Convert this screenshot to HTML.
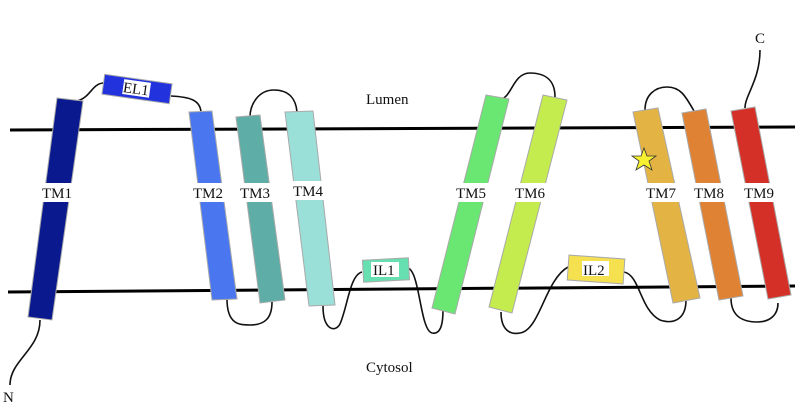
<!DOCTYPE html>
<html><head><style>body{margin:0;background:#fff}svg{display:block}text{font-family:"Liberation Serif",serif;font-size:15px;fill:#111}</style></head><body>
<svg width="800" height="417" viewBox="0 0 800 417">
<g fill="none" stroke="#111" stroke-width="1.6">
<path d="M40,320 C40,350 10,360 10,385"/>
<path d="M77,101 C90,98 92,84 103,83"/>
<path d="M171,96 C190,97 200,100 201,112"/>
<path d="M250,117 C250,105 258,90 274,90 C290,90 296,100 297,112"/>
<path d="M227,299 C227,325 240,325 250,325 C265,325 272,318 272,302"/>
<path d="M323,306 C323,330 335,333 340,324 C348,305 350,275 362,272"/>
<path d="M408,268 C420,272 420,330 432,333 C442,335 443,320 443,310"/>
<path d="M502,99 C512,95 514,73 530,73 C545,73 555,80 555,97"/>
<path d="M501,312 C501,330 510,335 520,333 C540,330 545,280 568,267"/>
<path d="M624,272 C640,275 640,310 660,320 C675,325 686,318 686,300"/>
<path d="M645,110 C645,95 655,87 667,87 C680,87 685,95 694,111"/>
<path d="M731,298 C731,318 745,322 757,322 C770,322 778,315 778,303"/>
<path d="M745,108 C745,95 760,80 760,50"/>
</g>
<line x1="10" y1="130" x2="795" y2="127" stroke="#000" stroke-width="3"/>
<line x1="8" y1="292" x2="795" y2="286" stroke="#000" stroke-width="3"/>
<g stroke="#aaa" stroke-width="1">
<polygon points="57,98 83,101 52,320 28,317" fill="#0a1a8e"/>
<polygon points="189,112 212,111 237,299 212,300" fill="#4a77f0"/>
<polygon points="236,117 260,115 285,300 260,303" fill="#5eada6"/>
<polygon points="285,112 313,111 335,305 309,306" fill="#9adfd8"/>
<polygon points="486,95 509,99 455,314 432,308" fill="#6ae673"/>
<polygon points="543,95 567,100 512,313 489,307" fill="#c5ec4e"/>
<polygon points="633,112 658,108 700,298 673,303" fill="#e3b444"/>
<polygon points="682,113 706,109 743,296 719,300" fill="#e08233"/>
<polygon points="731,111 755,107 791,295 768,299" fill="#d53027"/>
<rect x="103" y="79" width="68" height="20" fill="#2233dd" transform="rotate(8 137 89)"/>
<rect x="363" y="259" width="46" height="22" fill="#66e0b0" transform="rotate(-3 386 270)"/>
<rect x="568" y="257" width="56" height="25" fill="#f5e050" transform="rotate(4 596 270)"/>
</g>
<g fill="#fff">
<rect x="123" y="81" width="27" height="15" transform="rotate(8 137 89)"/>
<rect x="371" y="262" width="28" height="15"/>
<rect x="582" y="261" width="27" height="15"/>
<rect x="40" y="183" width="34" height="19"/><rect x="192" y="183" width="36" height="19"/>
<rect x="239" y="183" width="36" height="19"/><rect x="292" y="181" width="36" height="19"/>
<rect x="455" y="183" width="36" height="19"/><rect x="514" y="183" width="36" height="19"/>
<rect x="645" y="183" width="36" height="19"/><rect x="693" y="183" width="36" height="19"/>
<rect x="743" y="183" width="36" height="19"/>
</g>
<text x="123" y="94" transform="rotate(8 137 89)">EL1</text>
<text x="373" y="275">IL1</text><text x="583" y="275">IL2</text>
<text x="42" y="198">TM1</text><text x="193" y="198">TM2</text><text x="240" y="198">TM3</text>
<text x="293" y="196">TM4</text><text x="456" y="198">TM5</text><text x="515" y="198">TM6</text>
<text x="646" y="198">TM7</text><text x="694" y="198">TM8</text><text x="744" y="198">TM9</text>
<text x="366" y="104" font-size="16">Lumen</text><text x="366" y="372" font-size="16">Cytosol</text>
<text x="3" y="402" font-size="16">N</text><text x="755" y="43" font-size="16">C</text>
<polygon points="644,148 647,156 656,156 649,161 652,170 644,165 636,170 639,161 632,156 641,156" fill="#f7f030" stroke="#333" stroke-width="0.8"/>
</svg>
</body></html>
